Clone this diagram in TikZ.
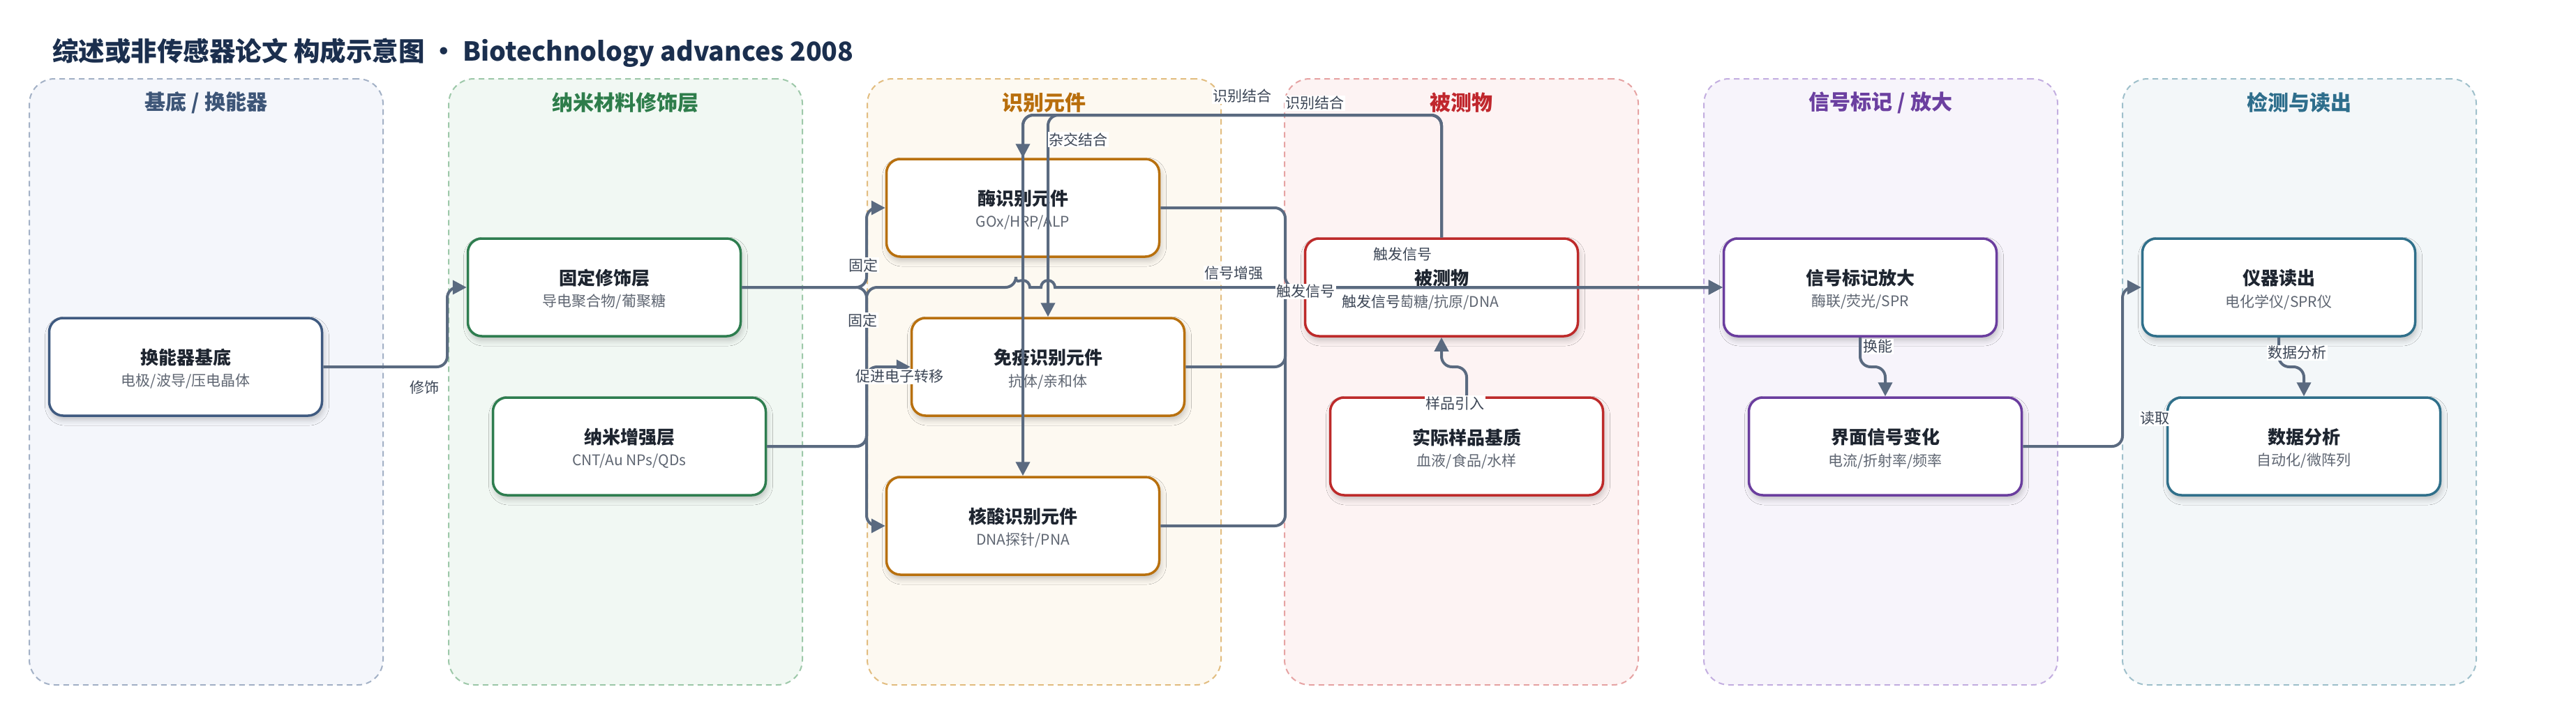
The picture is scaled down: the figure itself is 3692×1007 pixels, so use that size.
\documentclass[tikz,border=0pt]{standalone}
\usepackage{fontspec}
\setmainfont{Noto Sans CJK SC}
\usetikzlibrary{arrows.meta,shadows.blur}
\definecolor{edgec}{HTML}{5A6A80}
\definecolor{titlec}{HTML}{1B2F4E}
\definecolor{ntc}{HTML}{1E2530}
\definecolor{nsc}{HTML}{5F6672}
\definecolor{labc}{HTML}{3C4656}
\definecolor{laf}{HTML}{F4F6FB}\definecolor{lab}{HTML}{A3B1C6}\definecolor{lat}{HTML}{3D5577}\definecolor{lan}{HTML}{3F5A80}
\definecolor{lbf}{HTML}{F1F8F3}\definecolor{lbb}{HTML}{9DC8A9}\definecolor{lbt}{HTML}{2E7D4B}\definecolor{lbn}{HTML}{2E7D4F}
\definecolor{lcf}{HTML}{FDF9F1}\definecolor{lcb}{HTML}{E2BD80}\definecolor{lct}{HTML}{B86E0C}\definecolor{lcn}{HTML}{B8700E}
\definecolor{ldf}{HTML}{FDF3F3}\definecolor{ldb}{HTML}{E6A3A3}\definecolor{ldt}{HTML}{C0272D}\definecolor{ldn}{HTML}{BD2A2A}
\definecolor{lef}{HTML}{F7F4FB}\definecolor{leb}{HTML}{C3AEE0}\definecolor{let}{HTML}{6B3FA0}\definecolor{len}{HTML}{6A3D9E}
\definecolor{lff}{HTML}{F3F7F9}\definecolor{lfb}{HTML}{9FC0CB}\definecolor{lft}{HTML}{2E6E8C}\definecolor{lfn}{HTML}{2F6F8A}
\begin{document}
\begin{tikzpicture}[x=1pt,y=-1pt,
  lanebox/.style={rounded corners=36pt, line width=2pt, dash pattern=on 8pt off 6pt, minimum width=507pt, minimum height=869pt, inner sep=0pt},
  lanetitle/.style={font=\bfseries\fontsize{30}{30}\selectfont, inner sep=0pt},
  nbox/.style={rounded corners=20pt, line width=3.5pt, fill=white, minimum width=391pt, minimum height=140pt, inner sep=0pt, blur shadow={shadow xshift=2pt, shadow yshift=-6pt, shadow blur radius=8pt, shadow opacity=22}},
  ntitle/.style={font=\bfseries\fontsize{26}{26}\selectfont, text=ntc, inner sep=0pt},
  nsub/.style={font=\fontsize{21}{21}\selectfont, text=nsc, inner sep=0pt},
  edge/.style={draw=edgec, line width=4pt, rounded corners=15pt, -{Triangle[width=20pt,length=20pt]}},
  elabel/.style={font=\fontsize{21}{21}\selectfont, text=labc, fill=white, inner sep=1.5pt}]
\fill[white] (0,0) rectangle (3692,1007);
\useasboundingbox (0,0) rectangle (3692,1007);
% title
\node[anchor=west, inner sep=0pt, text=titlec, font=\bfseries\fontsize{37.5}{37.5}\selectfont] (title) at (75,76) {综述或非传感器论文 构成示意图 • Biotechnology advances 2008};
% lanes
\node[lanebox, draw=lab, fill=laf] (lane1) at (295.5,547.5) {};
\node[lanebox, draw=lbb, fill=lbf] (lane2) at (896.5,547.5) {};
\node[lanebox, draw=lcb, fill=lcf] (lane3) at (1496.5,547.5) {};
\node[lanebox, draw=ldb, fill=ldf] (lane4) at (2094.5,547.5) {};
\node[lanebox, draw=leb, fill=lef] (lane5) at (2695.5,547.5) {};
\node[lanebox, draw=lfb, fill=lff] (lane6) at (3295.5,547.5) {};
\node[lanetitle, text=lat] (lt1) at (295.5,147) {基底 / 换能器};
\node[lanetitle, text=lbt] (lt2) at (896.5,147) {纳米材料修饰层};
\node[lanetitle, text=lct] (lt3) at (1496.5,147) {识别元件};
\node[lanetitle, text=ldt] (lt4) at (2094.5,147) {被测物};
\node[lanetitle, text=let] (lt5) at (2695.5,147) {信号标记 / 放大};
\node[lanetitle, text=lft] (lt6) at (3295.5,147) {检测与读出};
% nodes
\node[nbox, draw=lan] (hnq) at (266,526) {};
\node[nbox, draw=lbn] (gdx) at (866,412) {};
\node[nbox, draw=lbn] (nzq) at (902,640) {};
\node[nbox, draw=lcn] (mei) at (1466,298) {};
\node[nbox, draw=lcn] (myi) at (1502,526) {};
\node[nbox, draw=lcn] (hs) at (1466,754) {};
\node[nbox, draw=ldn] (bcw) at (2066,412) {};
\node[nbox, draw=ldn] (sjy) at (2102,640) {};
\node[nbox, draw=len] (xhb) at (2666,412) {};
\node[nbox, draw=len] (jmx) at (2702,640) {};
\node[nbox, draw=lfn] (yqd) at (3266,412) {};
\node[nbox, draw=lfn] (sjf) at (3302,640) {};
\foreach \n/\t/\s in {hnq/换能器基底/电极\slash 波导\slash 压电晶体, gdx/固定修饰层/导电聚合物\slash 葡聚糖, nzq/纳米增强层/CNT\slash Au NPs\slash QDs, mei/酶识别元件/GOx\slash HRP\slash ALP, myi/免疫识别元件/抗体\slash 亲和体, hs/核酸识别元件/DNA探针\slash PNA, bcw/被测物/葡萄糖\slash 抗原\slash DNA, sjy/实际样品基质/血液\slash 食品\slash 水样, xhb/信号标记放大/酶联\slash 荧光\slash SPR, jmx/界面信号变化/电流\slash 折射率\slash 频率, yqd/仪器读出/电化学仪\slash SPR仪, sjf/数据分析/自动化\slash 微阵列}{
  \node[ntitle] (\n-t) at ([yshift=13pt]\n.center) {\t};
  \node[nsub] (\n-s) at ([yshift=-21pt]\n.center) {\s};
}
% edges
\draw[edge] (hnq.east) -- (641,526) -- (641,412) -- (gdx.west);
\draw[edge] (gdx.east) -- (1242,412) -- (1242,298) -- (mei.west);
\draw[edge] (gdx.east) -- (1242,412) -- (1242,754) -- (hs.west);
\draw[edge] (nzq.east) -- (1242,640) -- (1242,526) -- (myi.west);
\draw[edge] (nzq.east) -- (1242,640) -- (1242,412) -- (1456,412) [sharp corners] arc[start angle=180,end angle=360,radius=10] -- (1492,412) arc[start angle=180,end angle=360,radius=10] -- (xhb.west);
\draw[edge] (bcw.north) -- (2066,165) -- (1466,165) -- (mei.north);
\draw[edge] (bcw.north) -- (2066,165) -- (1502,165) -- (myi.north);
\draw[edge] (bcw.north) -- (2066,165) -- (1466,165) -- (hs.north);
\draw[edge] (mei.east) -- (1842,298) -- (1842,412) -- (xhb.west);
\draw[edge] (myi.east) -- (1842,526) -- (1842,412) -- (xhb.west);
\draw[edge] (hs.east) -- (1842,754) -- (1842,412) -- (xhb.west);
\draw[edge] (sjy.north) -- (2102,526) -- (2066,526) -- (bcw.south);
\draw[edge] (xhb.south) -- (2666,526) -- (2702,526) -- (jmx.north);
\draw[edge] (jmx.east) -- (3042,640) -- (3042,412) -- (yqd.west);
\draw[edge] (yqd.south) -- (3266,526) -- (3302,526) -- (sjf.north);
% labels
\node[elabel] (l1) at (608,556) {修饰};
\node[elabel] (l2) at (1237,380) {固定};
\node[elabel] (l3) at (1236,459) {固定};
\node[elabel] (l4) at (1289,540) {促进电子转移};
\node[elabel] (l5) at (1768,392) {信号增强};
\node[elabel] (l6) at (1780,138) {识别结合};
\node[elabel] (l7) at (1884,148) {识别结合};
\node[elabel] (l8) at (1545,200) {杂交结合};
\node[elabel] (l9) at (2010,365) {触发信号};
\node[elabel] (l10) at (1871,418) {触发信号};
\node[elabel] (l11) at (1965,433) {触发信号};
\node[elabel] (l12) at (2085,578) {样品引入};
\node[elabel] (l13) at (2691,497) {换能};
\node[elabel] (l14) at (3088,600) {读取};
\node[elabel] (l15) at (3292,506) {数据分析};
\end{tikzpicture}
\end{document}
